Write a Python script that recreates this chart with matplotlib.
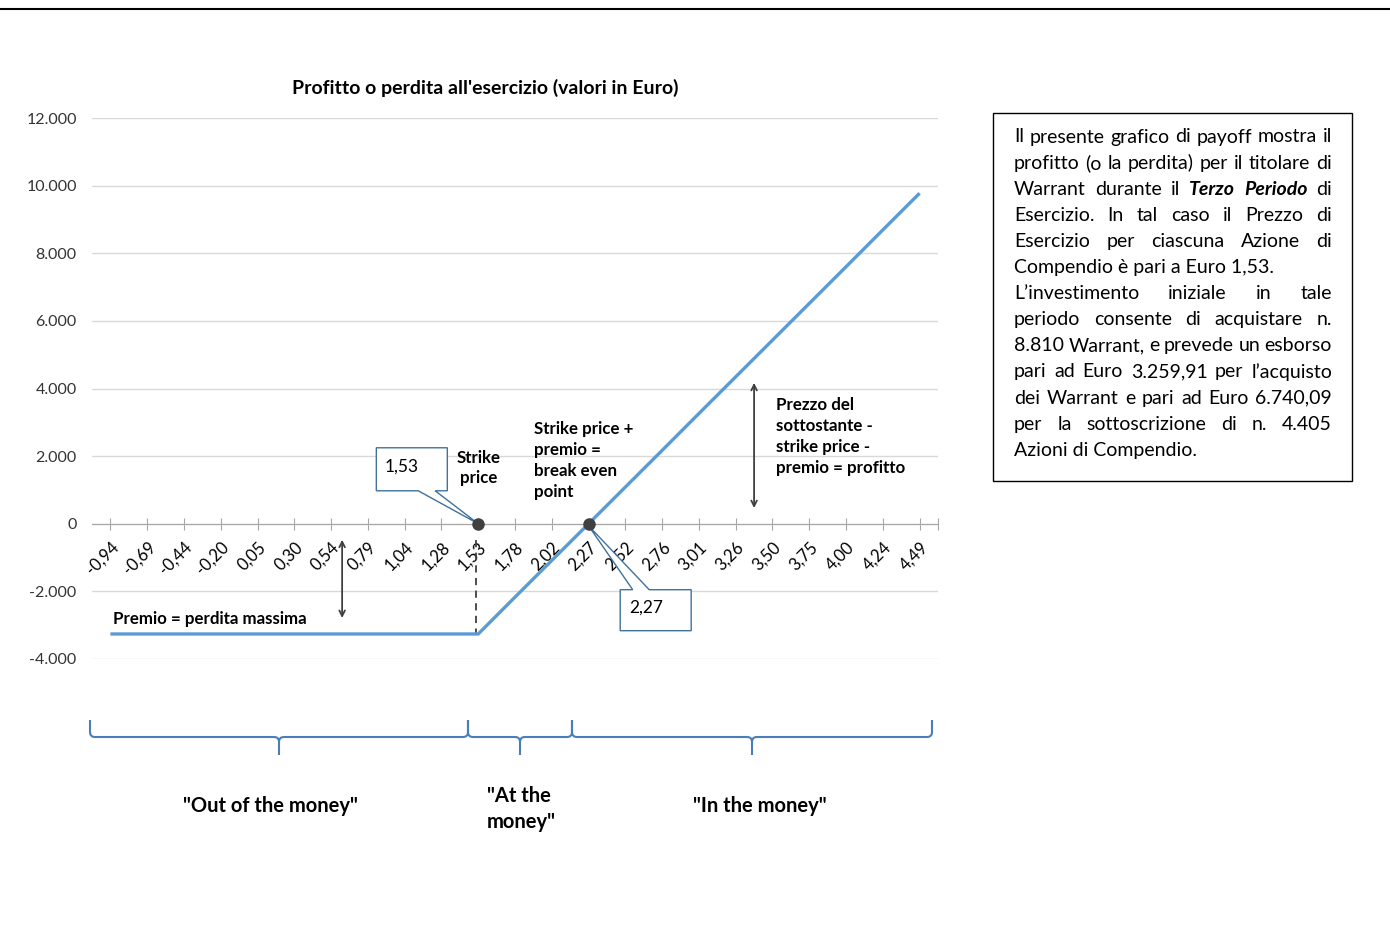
import numpy as np
import matplotlib
matplotlib.use("Agg")
import matplotlib.pyplot as plt
from matplotlib.path import Path
from matplotlib.patches import PathPatch, Polygon, Rectangle
from matplotlib.lines import Line2D

plt.rcParams['font.family'] = ['Lato', 'DejaVu Sans']

# data
prezzi = ['-0,94', '-0,69', '-0,44', '-0,20', '0,05', '0,30', '0,54', '0,79',
          '1,04', '1,28', '1,53', '1,78', '2,02', '2,27', '2,52', '2,76',
          '3,01', '3,26', '3,50', '3,75', '4,00', '4,24', '4,49']
profitto = [-3260, -3260, -3260, -3260, -3260, -3260, -3260, -3260,
            -3260, -3260, -3260, -2170, -1085, 0, 1085, 2170,
            3260, 4345, 5430, 6515, 7600, 8690, 9775]
y_ticks = [-4000, -2000, 0, 2000, 4000, 6000, 8000, 10000, 12000]
idx_strike = 10
idx_breakeven = 13

W, H = 1390, 932
fig = plt.figure(figsize=(W / 100, H / 100), dpi=100)

def fx(px):
    return px / W

def fy(py):
    return 1 - py / H

blu = '#5b9bd5'
grigio = '#404040'

ax = fig.add_axes([fx(92), fy(659), fx(938) - fx(92), fy(118) - fy(659)])
x = np.arange(len(prezzi))
ax.plot(x, profitto, color=blu, lw=2.4, solid_capstyle='butt', zorder=3)
ax.set_xlim(-0.5, len(prezzi) - 0.5)
ax.set_ylim(-4000, 12000)

ax.set_yticks(y_ticks)
ax.set_yticklabels([f'{v:,}'.replace(',', '.') for v in y_ticks], fontsize=11.5, color='#333333')
ax.tick_params(axis='y', length=0, pad=11)
ax.grid(axis='y', color='#d9d9d9', lw=1)
ax.set_axisbelow(True)
for s in ['top', 'right', 'left']:
    ax.spines[s].set_visible(False)
ax.spines['bottom'].set_position(('data', 0))
ax.spines['bottom'].set_color('#a6a6a6')
ax.set_xticks(list(x) + [len(prezzi) - 0.5])
ax.set_xticklabels(prezzi + [''], rotation=45, ha='right', va='top',
                   rotation_mode='anchor', fontsize=12)
ax.tick_params(axis='x', direction='inout', length=8, color='#a6a6a6', pad=7)

fig.text(fx(485), fy(88), "Profitto o perdita all'esercizio (valori in Euro)",
         ha='center', va='center', fontsize=14, fontweight='bold')

# punti strike e break even
ax.plot([idx_strike, idx_breakeven], [0, 0], 'o', color=grigio, ms=8, zorder=5)

# callout 1,53
ax.add_patch(Polygon([[7.23, 2247], [9.16, 2247], [9.16, 975], [8.83, 975],
                      [idx_strike, 0], [8.37, 975], [7.23, 975]],
                     closed=True, fc='white', ec='#41719c', lw=1, zorder=4))
ax.text(7.45, 1700, '1,53', fontsize=12.5, va='center', ha='left', zorder=6)

# callout 2,27
ax.add_patch(Polygon([[13.86, -1951], [14.2, -1951], [idx_breakeven, -60],
                      [14.65, -1951], [15.79, -1951], [15.79, -3163], [13.86, -3163]],
                     closed=True, fc='white', ec='#41719c', lw=1, zorder=4))
ax.text(14.1, -2470, '2,27', fontsize=12.5, va='center', ha='left', zorder=6)

# linee e frecce
ax.plot([9.95, 9.95], [-470, -3220], color=grigio, lw=1.3, ls=(0, (4, 3)), zorder=2)
ax.annotate('', xy=(6.3, -390), xytext=(6.3, -2870),
            arrowprops=dict(arrowstyle='<->', color=grigio, lw=1.3))
ax.annotate('', xy=(17.5, 4250), xytext=(17.5, 380),
            arrowprops=dict(arrowstyle='<->', color=grigio, lw=1.3))

ax.text(0.08, -2810, 'Premio = perdita massima', fontsize=12.2, fontweight='bold',
        ha='left', va='center')
ax.text(10.0, 1660, 'Strike\nprice', fontsize=12.2, fontweight='bold',
        ha='center', va='center', linespacing=1.3)
ax.text(11.52, 1870, 'Strike price +\npremio =\nbreak even\npoint', fontsize=12.2,
        fontweight='bold', ha='left', va='center', linespacing=1.4)
ax.text(18.1, 2580, 'Prezzo del\nsottostante -\nstrike price -\npremio = profitto',
        fontsize=12.2, fontweight='bold', ha='left', va='center', linespacing=1.4)

# graffe
def graffa(x0, x1, xm, top=720, mid=737, tip=755, r=5):
    verts = [(x0, top), (x0, mid - r), (x0, mid), (x0 + r, mid),
             (xm - r, mid), (xm, mid), (xm, mid + r), (xm, tip),
             (xm, mid + r), (xm, mid), (xm + r, mid),
             (x1 - r, mid), (x1, mid), (x1, mid - r), (x1, top)]
    codes = [Path.MOVETO, Path.LINETO, Path.CURVE3, Path.CURVE3,
             Path.LINETO, Path.CURVE3, Path.CURVE3, Path.LINETO,
             Path.MOVETO, Path.CURVE3, Path.CURVE3,
             Path.LINETO, Path.CURVE3, Path.CURVE3, Path.LINETO]
    verts = [(fx(a), fy(b)) for a, b in verts]
    fig.add_artist(PathPatch(Path(verts, codes), fc='none', ec='#4a7ebb', lw=1.5,
                             transform=fig.transFigure))

graffa(90, 468, 279)
graffa(468, 572, 520)
graffa(572, 932, 752)

fig.text(fx(270), fy(806), '"Out of the money"', fontsize=14.5, fontweight='bold',
         ha='center', va='center')
fig.text(fx(487), fy(809), '"At the\nmoney"', fontsize=14.5, fontweight='bold',
         ha='left', va='center', linespacing=1.35)
fig.text(fx(760), fy(806), '"In the money"', fontsize=14.5, fontweight='bold',
         ha='center', va='center')

# linea in alto
fig.add_artist(Line2D([0, 1], [fy(9), fy(9)], color='black', lw=1.5,
                      transform=fig.transFigure))

# riquadro di testo
fig.add_artist(Rectangle((fx(993), fy(481)), fx(1352) - fx(993), fy(113) - fy(481),
                         fc='white', ec='black', lw=1, transform=fig.transFigure))
righe = [
    ("Il presente grafico di payoff mostra il", True),
    ("profitto (o la perdita) per il titolare di", True),
    ("Warrant durante il *Terzo *Periodo di", True),
    ("Esercizio. In tal caso il Prezzo di", True),
    ("Esercizio per ciascuna Azione di", True),
    ("Compendio è pari a Euro 1,53.", False),
    ("L’investimento iniziale in tale", True),
    ("periodo consente di acquistare n.", True),
    ("8.810 Warrant, e prevede un esborso", True),
    ("pari ad Euro 3.259,91 per l’acquisto", True),
    ("dei Warrant e pari ad Euro 6.740,09", True),
    ("per la sottoscrizione di n. 4.405", True),
    ("Azioni di Compendio.", False),
]
x_sx, x_dx = 1014, 1332
fs_box = 14
renderer = fig.canvas.get_renderer()
for i, (riga, giust) in enumerate(righe):
    ypos = fy(137 + i * 26.1)
    if not giust:
        fig.text(fx(x_sx), ypos, riga, fontsize=fs_box, ha='left', va='center')
        continue
    parole = riga.split(' ')
    testi = []
    for p in parole:
        if p.startswith('*'):
            t = fig.text(0, ypos, p[1:], fontsize=fs_box, ha='left', va='center',
                         fontweight='bold', fontstyle='italic')
        else:
            t = fig.text(0, ypos, p, fontsize=fs_box, ha='left', va='center')
        testi.append(t)
    larghezze = [t.get_window_extent(renderer).width for t in testi]
    spazio = (x_dx - x_sx - sum(larghezze)) / (len(testi) - 1)
    pos = x_sx
    for t, w in zip(testi, larghezze):
        t.set_x(fx(pos))
        pos += w + spazio

fig.savefig('out.png', dpi=100)
